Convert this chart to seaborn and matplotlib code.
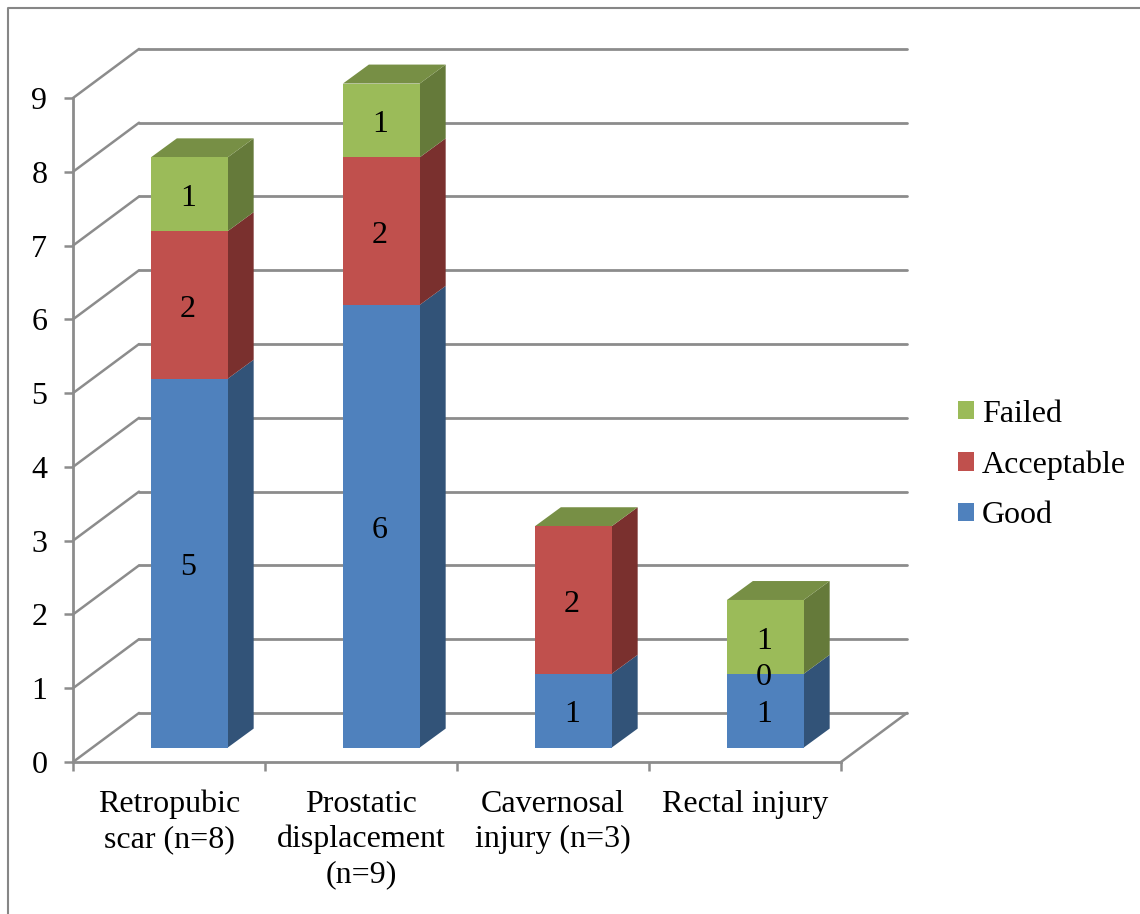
import matplotlib.pyplot as plt
from matplotlib.lines import Line2D
from matplotlib.patches import Patch
import numpy as np
import pandas as pd
import seaborn as sns

CATEGORIES = ["Retropubic\nscar (n=8)", "Prostatic\ndisplacement\n(n=9)", "Cavernosal\ninjury (n=3)", "Rectal injury"]
GOOD = [5, 6, 1, 1]
ACCEPTABLE = [2, 2, 2, 0]
FAILED = [1, 1, 0, 1]
FAILED_LABELS = ["1", "1", "", "1"]
Y_TICKS = list(range(10))

FRONT = {"Good": "#4F81BD", "Acceptable": "#C0504D", "Failed": "#9BBB59"}
SIDE = {"Good": "#325378", "Acceptable": "#7A302E", "Failed": "#657A3A"}
TOP_COLOR = "#778F45"
GRID = "#8C8C8C"
FONT_SIZE = 23

# fake 3d offsets, in data units
WALL_DX, WALL_DY = 0.344, 0.665
BAR_DX, BAR_DY = 0.106, 0.196
SIDE_DX, SIDE_DY = 0.135, 0.257

sns.set_theme(style="white")
plt.rcParams["font.family"] = ["Liberation Serif", "DejaVu Serif"]

fig = plt.figure(figsize=(11.4, 9.14), dpi=100)
ax = fig.add_axes([73 / 1140, (914 - 762) / 914, 768 / 1140, 664 / 914])

# back wall, side wall and floor
for v in Y_TICKS:
    ax.plot([-0.5 + WALL_DX, 3.5 + WALL_DX], [v + WALL_DY, v + WALL_DY], color=GRID, lw=2.0, zorder=0.5, clip_on=False)
    ax.plot([-0.5, -0.5 + WALL_DX], [v, v + WALL_DY], color=GRID, lw=1.8, zorder=0.5, clip_on=False)
ax.plot([3.5, 3.5 + WALL_DX], [0, WALL_DY], color=GRID, lw=1.8, zorder=0.5, clip_on=False)

bottom = np.zeros(len(CATEGORIES))
for name, values in [("Good", GOOD), ("Acceptable", ACCEPTABLE), ("Failed", FAILED)]:
    df = pd.DataFrame({"category": CATEGORIES, "value": values})
    n_before = len(ax.patches)
    sns.barplot(data=df, x="category", y="value", color=FRONT[name], saturation=1, width=0.4,
                errorbar=None, bottom=bottom + BAR_DY, linewidth=0, zorder=3, ax=ax)
    for patch in ax.patches[n_before:]:
        patch.set_x(patch.get_x() + BAR_DX)
        patch.set_clip_on(False)
        x1 = patch.get_x() + patch.get_width()
        y0, y1 = patch.get_y(), patch.get_y() + patch.get_height()
        if y1 > y0:
            ax.fill([x1, x1 + SIDE_DX, x1 + SIDE_DX, x1],
                    [y0, y0 + SIDE_DY, y1 + SIDE_DY, y1],
                    color=SIDE[name], lw=0, zorder=2.8, clip_on=False)
        if name == "Failed":
            x0 = patch.get_x()
            ax.fill([x0, x0 + SIDE_DX, x1 + SIDE_DX, x1],
                    [y1, y1 + SIDE_DY, y1 + SIDE_DY, y1],
                    color=TOP_COLOR, lw=0, zorder=2.8, clip_on=False)
    labels = [str(v) for v in values] if name != "Failed" else FAILED_LABELS
    for i, label in enumerate(labels):
        ax.annotate(label, (i + BAR_DX, bottom[i] + values[i] / 2 + BAR_DY), xytext=(-1, -3),
                    textcoords="offset points", ha="center", va="center",
                    fontsize=FONT_SIZE, color="black", zorder=5, annotation_clip=False)
    bottom = bottom + np.array(values)

ax.set_xlim(-0.5, 3.5)
ax.set_ylim(0, 9)
ax.set_xlabel("")
ax.set_ylabel("")
ax.set_yticks(Y_TICKS)
ax.set_xticks(np.arange(-0.5, 4, 1))
ax.set_xticklabels([])
ax.set_xticks(range(len(CATEGORIES)), CATEGORIES, minor=True)
ax.tick_params(axis="x", which="major", length=6.5, width=1.8, color=GRID, bottom=True)
ax.tick_params(axis="x", which="minor", length=0, pad=20, labelsize=FONT_SIZE, labelcolor="black", bottom=True)
ax.tick_params(axis="y", length=6.5, width=1.8, color=GRID, pad=12, labelsize=FONT_SIZE, labelcolor="black", left=True)
sns.despine(ax=ax)
for side in ("left", "bottom"):
    ax.spines[side].set_color(GRID)
    ax.spines[side].set_linewidth(2.0)
ax.patch.set_alpha(0)
for label in ax.get_xticklabels(minor=True):
    label.set_linespacing(1.27)

handles = [Patch(color=FRONT[n], lw=0, label=n) for n in ("Failed", "Acceptable", "Good")]
fig.legend(handles=handles, loc="center left", bbox_to_anchor=(958 / 1140, (914 - 465) / 914), frameon=False,
           fontsize=FONT_SIZE, handlelength=0.5, handleheight=0.5, handletextpad=0.25,
           labelspacing=0.68, borderpad=0, borderaxespad=0, labelcolor="black")

# frame of the pasted chart, only top and left are visible
fig.add_artist(Line2D([8 / 1140, 8 / 1140, 1], [0, (914 - 7.5) / 914, (914 - 7.5) / 914], color="#868686", lw=1.5))

fig.savefig("out.png", dpi=100)
